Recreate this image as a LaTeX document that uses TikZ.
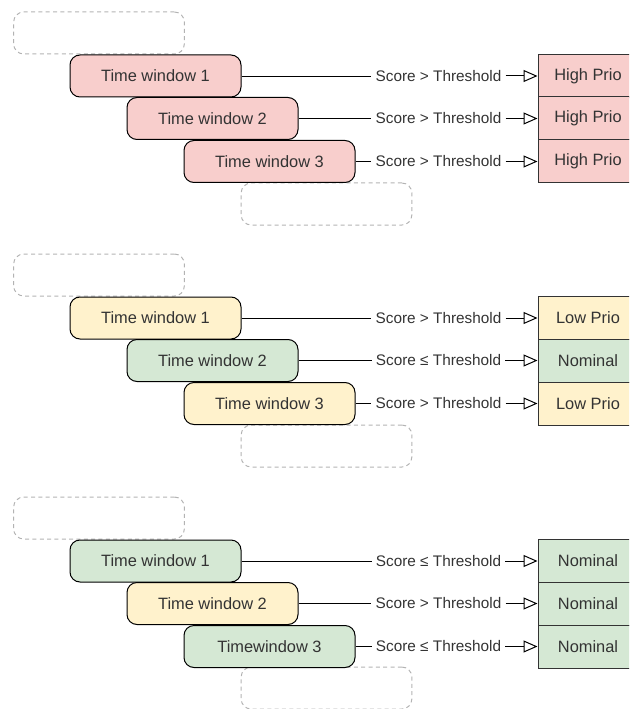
\documentclass[tikz,border=0pt]{standalone}
\usepackage{fontspec}
\setmainfont{Liberation Sans}
\usetikzlibrary{positioning, calc, arrows.meta}
\definecolor{prioRed}{HTML}{F8CECC}
\definecolor{prioYellow}{HTML}{FFF2CC}
\definecolor{prioGreen}{HTML}{D5E8D4}
\definecolor{ghostGray}{HTML}{B3B3B3}
\definecolor{textGray}{HTML}{333333}

\begin{document}
\begin{tikzpicture}[x=0.75pt, y=-0.75pt,
		window/.style={draw=black, line width=0.75pt, rounded corners=7.5pt, minimum width=128.25pt, minimum height=31.5pt, inner sep=0pt, text=textGray, font=\fontsize{12.3}{14}\selectfont},
		ghost/.style={draw=ghostGray, line width=0.75pt, dash pattern=on 3pt off 2.5pt, rounded corners=7.5pt, minimum width=128pt, minimum height=31.5pt},
		score/.style={inner sep=3pt, text=textGray, font=\fontsize{11.5}{13}\selectfont},
		result/.style={draw=black!80, line width=0.75pt, minimum width=75pt, minimum height=32.25pt, inner sep=0pt, text=textGray, font=\fontsize{12.3}{14}\selectfont},
		toresult/.style={-{Triangle[open, length=10.5pt, width=9pt]}, line width=0.75pt}
	]
	\useasboundingbox (0,0) rectangle (629,709);
	\clip (0,0) rectangle (629,709);

	% first group: all high
	\node[ghost] (gh-1-a) at (99,33) {};
	\node[ghost] (gh-1-b) at (326.5,204) {};
	\node[window, fill=prioRed] (tw-1-1) at (155.5,76) {Time window 1};
	\node[window, fill=prioRed] (tw-1-2) at (212.5,118.5) {Time window 2};
	\node[window, fill=prioRed] (tw-1-3) at (269.5,161.5) {Time window 3};
	\node[score] (sc-1-1) at (438.5,76) {Score > Threshold};
	\node[score] (sc-1-2) at (438.5,118.5) {Score > Threshold};
	\node[score] (sc-1-3) at (438.5,161.5) {Score > Threshold};
	\node[result, fill=prioRed] (res-1-1) at (588,76) {High Prio};
	\node[result, fill=prioRed] (res-1-2) at (588,118.5) {High Prio};
	\node[result, fill=prioRed] (res-1-3) at (588,161.5) {High Prio};
	\draw (tw-1-1) -- (sc-1-1);
	\draw (tw-1-2) -- (sc-1-2);
	\draw (tw-1-3) -- (sc-1-3);
	\draw[toresult] (sc-1-1) -- (res-1-1);
	\draw[toresult] (sc-1-2) -- (res-1-2);
	\draw[toresult] (sc-1-3) -- (res-1-3);

	% second group: mixed
	\node[ghost] (gh-2-a) at (99,275) {};
	\node[ghost] (gh-2-b) at (326.5,446) {};
	\node[window, fill=prioYellow] (tw-2-1) at (155.5,318) {Time window 1};
	\node[window, fill=prioGreen] (tw-2-2) at (212.5,360.5) {Time window 2};
	\node[window, fill=prioYellow] (tw-2-3) at (269.5,403.5) {Time window 3};
	\node[score] (sc-2-1) at (438.5,318) {Score > Threshold};
	\node[score] (sc-2-2) at (438.5,360.5) {Score ≤ Threshold};
	\node[score] (sc-2-3) at (438.5,403.5) {Score > Threshold};
	\node[result, fill=prioYellow] (res-2-1) at (588,318) {Low Prio};
	\node[result, fill=prioGreen] (res-2-2) at (588,360.5) {Nominal};
	\node[result, fill=prioYellow] (res-2-3) at (588,403.5) {Low Prio};
	\draw (tw-2-1) -- (sc-2-1);
	\draw (tw-2-2) -- (sc-2-2);
	\draw (tw-2-3) -- (sc-2-3);
	\draw[toresult] (sc-2-1) -- (res-2-1);
	\draw[toresult] (sc-2-2) -- (res-2-2);
	\draw[toresult] (sc-2-3) -- (res-2-3);

	% third group: all nominal
	\node[ghost] (gh-3-a) at (99,518) {};
	\node[ghost] (gh-3-b) at (326.5,688) {};
	\node[window, fill=prioGreen] (tw-3-1) at (155.5,561) {Time window 1};
	\node[window, fill=prioYellow] (tw-3-2) at (212.5,603.5) {Time window 2};
	\node[window, fill=prioGreen] (tw-3-3) at (269.5,646.5) {Timewindow 3};
	\node[score] (sc-3-1) at (438.5,561) {Score ≤ Threshold};
	\node[score] (sc-3-2) at (438.5,603.5) {Score > Threshold};
	\node[score] (sc-3-3) at (438.5,646.5) {Score ≤ Threshold};
	\node[result, fill=prioGreen] (res-3-1) at (588,561) {Nominal};
	\node[result, fill=prioGreen] (res-3-2) at (588,603.5) {Nominal};
	\node[result, fill=prioGreen] (res-3-3) at (588,646.5) {Nominal};
	\draw (tw-3-1) -- (sc-3-1);
	\draw (tw-3-2) -- (sc-3-2);
	\draw (tw-3-3) -- (sc-3-3);
	\draw[toresult] (sc-3-1) -- (res-3-1);
	\draw[toresult] (sc-3-2) -- (res-3-2);
	\draw[toresult] (sc-3-3) -- (res-3-3);
\end{tikzpicture}
\end{document}
